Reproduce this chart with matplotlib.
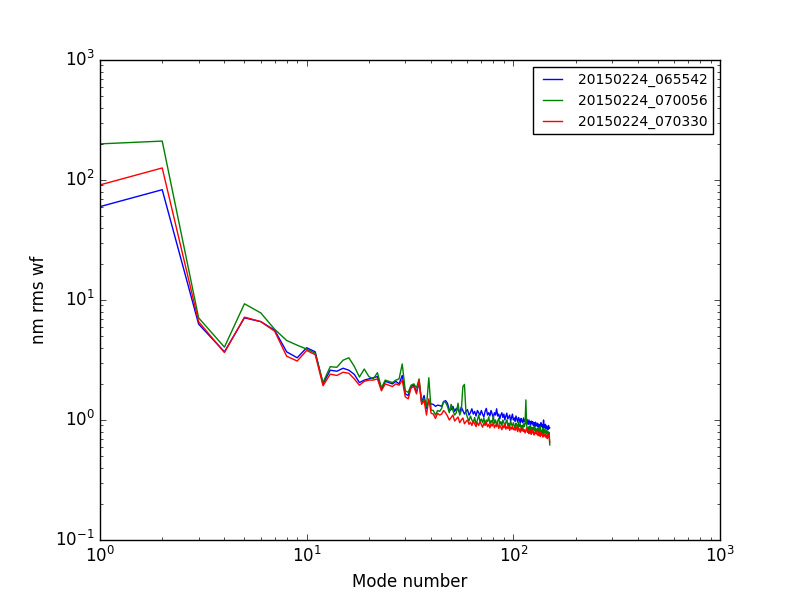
import numpy as np
import matplotlib
matplotlib.use('agg')
import matplotlib.pyplot as plt

## data (mode 1 .. 150)
labels = ["20150224_065542", "20150224_070056", "20150224_070330"]

wf_065542 = [
    60, 83, 6.3, 3.7, 7.1, 6.6, 5.6, 3.7, 3.3, 4.0,
    3.7, 2.0, 2.6, 2.55, 2.7, 2.6, 2.4, 2.05, 2.15, 2.2,
    2.25, 2.3, 1.8, 2.1, 2.05, 2.0, 2.1, 2.0, 2.35, 1.65,
    1.6, 1.9, 1.95, 1.7, 2.05, 1.4, 1.6, 1.25, 1.45, 1.36,
    1.35, 1.3, 1.33, 1.32, 1.3, 1.42, 1.45, 1.38, 1.2, 1.22,
    1.3, 1.18, 1.25, 1.22, 1.15, 1.28, 1.2, 1.12, 1.18, 1.22,
    1.1, 1.15, 1.24, 1.12, 1.18, 1.08, 1.2, 1.15, 1.1, 1.2,
    1.12, 1.06, 1.18, 1.25, 1.1, 1.15, 1.08, 1.2, 1.12, 1.05,
    1.15, 1.1, 1.24, 1.08, 1.12, 1.02, 1.1, 1.15, 1.05, 1.12,
    1.0, 1.08, 1.14, 1.02, 1.06, 1.1, 0.98, 1.05, 1.12, 1.0,
    1.04, 0.97, 1.08, 1.02, 0.96, 1.05, 1.0, 0.94, 1.03, 0.98,
    0.95, 1.04, 0.97, 1.0, 0.93, 1.02, 0.96, 0.92, 1.0, 0.95,
    0.9, 0.98, 0.93, 0.97, 0.9, 0.95, 0.88, 0.96, 0.92, 0.89,
    0.94, 0.87, 0.92, 0.9, 0.86, 0.95, 0.88, 0.91, 0.85, 1.0,
    0.88, 0.86, 0.92, 0.84, 0.89, 0.87, 0.83, 0.9, 0.85, 0.86,
]

wf_070056 = [
    200, 211, 7.1, 4.05, 9.3, 7.8, 5.7, 4.6, 4.2, 3.9,
    3.6, 2.05, 2.78, 2.75, 3.15, 3.3, 2.8, 2.28, 2.66, 2.3,
    2.2, 2.48, 1.85, 2.15, 2.1, 2.05, 2.15, 2.2, 2.93, 1.75,
    1.7, 1.95, 2.0, 1.85, 2.2, 1.4, 1.5, 1.3, 2.25, 1.21,
    1.2, 1.1, 1.2, 1.18, 1.25, 1.43, 1.4, 1.3, 1.15, 1.35,
    1.2, 1.1, 1.15, 1.38, 1.1, 1.2, 1.9, 1.98, 1.15, 1.05,
    0.98, 1.08, 1.0, 0.95, 1.05, 0.92, 1.0, 1.1, 0.96, 1.02,
    0.95, 1.04, 0.92, 1.0, 0.97, 1.06, 0.93, 0.99, 0.95, 1.08,
    0.94, 1.0, 0.9, 0.98, 1.03, 0.92, 0.97, 0.9, 1.0, 0.95,
    0.88, 0.96, 1.0, 0.9, 0.94, 0.87, 0.98, 0.92, 0.89, 0.95,
    0.9, 0.86, 0.94, 0.91, 0.85, 0.96, 0.88, 0.92, 0.86, 0.9,
    0.84, 0.93, 0.88, 0.95, 1.47, 0.9, 0.85, 0.82, 0.88, 0.84,
    0.9, 0.82, 0.87, 0.8, 0.85, 0.88, 0.81, 0.86, 0.79, 0.84,
    0.8, 0.86, 0.78, 0.83, 0.88, 0.79, 0.82, 0.77, 0.85, 0.8,
    0.78, 0.84, 0.8, 0.76, 0.82, 0.78, 0.8, 0.75, 0.79, 0.62,
]

wf_070330 = [
    91, 126, 6.6, 3.65, 7.2, 6.6, 5.5, 3.4, 3.1, 3.8,
    3.5, 1.93, 2.41, 2.35, 2.5, 2.45, 2.2, 1.95, 2.1, 2.15,
    2.15, 2.2, 1.75, 2.0, 1.95, 1.9, 2.0, 1.95, 2.15, 1.56,
    1.5, 1.85, 1.9, 1.65, 2.15, 1.35, 1.45, 1.1, 1.5, 1.14,
    1.12, 1.03, 1.14, 1.1, 1.12, 1.2, 1.15, 1.08, 1.0, 1.05,
    1.1, 0.98, 1.02, 1.06, 0.95, 1.0, 1.04, 0.93, 0.97, 1.0,
    0.92, 0.96, 0.9, 0.98, 0.93, 0.88, 0.95, 0.9, 0.97, 0.92,
    0.87, 0.94, 0.9, 0.96, 0.88, 0.92, 0.86, 0.93, 0.89, 0.95,
    0.86, 0.91, 0.88, 0.94, 0.85, 0.9, 0.87, 0.83, 0.9, 0.86,
    0.92, 0.84, 0.88, 0.85, 0.9, 0.82, 0.87, 0.84, 0.89, 0.83,
    0.86, 0.82, 0.88, 0.84, 0.8, 0.86, 0.83, 0.79, 0.85, 0.81,
    0.84, 0.8, 0.83, 0.78, 0.82, 0.86, 0.79, 0.81, 0.77, 0.83,
    0.8, 0.76, 0.82, 0.78, 0.8, 0.75, 0.79, 0.77, 0.81, 0.76,
    0.78, 0.74, 0.8, 0.76, 0.73, 0.79, 0.75, 0.77, 0.72, 0.78,
    0.74, 0.76, 0.72, 0.75, 0.73, 0.7, 0.76, 0.72, 0.74, 0.65,
]

modes = np.arange(1, len(wf_065542) + 1)

### Plotting
plt.style.use('classic')
plt.rcParams['mathtext.fontset'] = 'dejavusans'

fig = plt.figure(figsize=(8, 6), dpi=100)
fig.patch.set_facecolor('white')
ax = fig.add_axes([0.125, 0.1, 0.775, 0.8])

ax.loglog(modes, wf_065542, 'b-', label=labels[0])
ax.loglog(modes, wf_070056, 'g-', label=labels[1])
ax.loglog(modes, wf_070330, 'r-', label=labels[2])

ax.set_xlim(1, 1000)
ax.set_ylim(0.1, 1000)
ax.set_xlabel('Mode number')
ax.set_ylabel('nm rms wf')
ax.legend(loc='upper right', fontsize=10)

plt.savefig('out.png', dpi=100)
